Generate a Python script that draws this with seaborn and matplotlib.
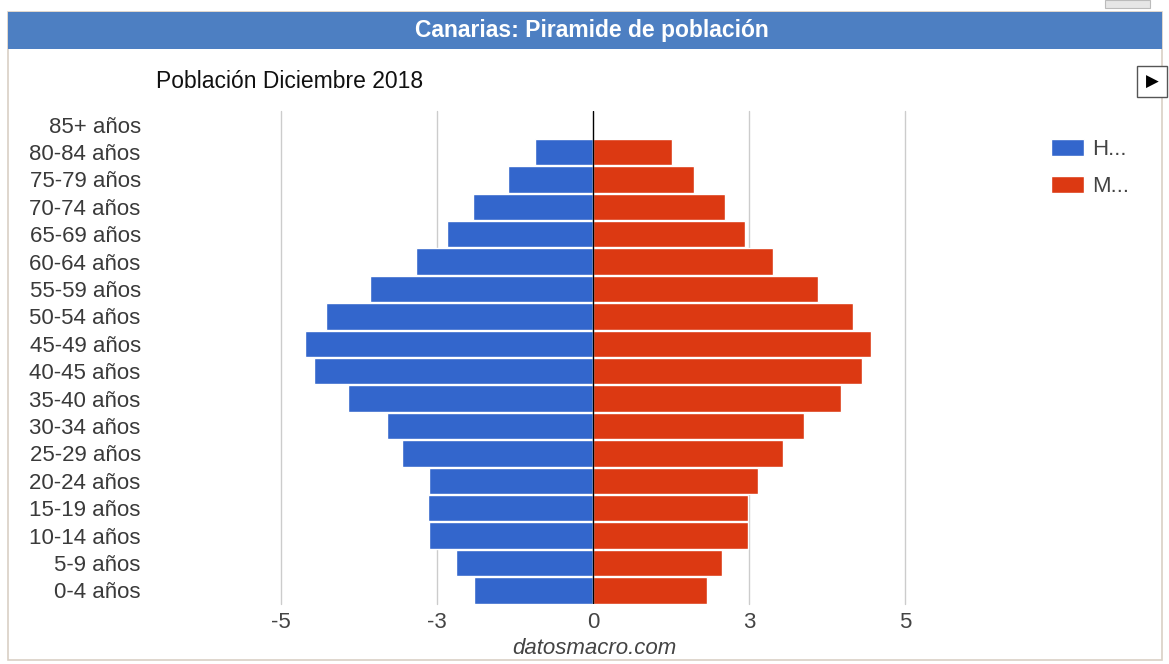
import pandas as pd
import matplotlib.pyplot as plt
import seaborn as sns
from matplotlib.patches import Rectangle

# Pirámide de población, Canarias (% de la población)
grupos = ['85+ años', '80-84 años', '75-79 años', '70-74 años', '65-69 años',
          '60-64 años', '55-59 años', '50-54 años', '45-49 años', '40-45 años',
          '35-40 años', '30-34 años', '25-29 años', '20-24 años', '15-19 años',
          '10-14 años', '5-9 años', '0-4 años']
hombres = [0.0, 0.93, 1.36, 1.93, 2.34, 2.83, 3.57, 4.28, 4.61, 4.47,
           3.93, 3.30, 3.06, 2.63, 2.65, 2.63, 2.19, 1.91]
mujeres = [0.0, 1.27, 1.62, 2.12, 2.44, 2.88, 3.60, 4.17, 4.45, 4.31,
           3.98, 3.38, 3.05, 2.64, 2.48, 2.48, 2.06, 1.82]
series = ['Hombres', 'Mujeres']
etiquetas_leyenda = ['H...', 'M...']
x_ticks = [-5, -2.5, 0, 2.5, 5]
x_tick_labels = ['-5', '-3', '0', '3', '5']
colores = ['#3366cc', '#dc3912']

sns.set_theme(style="white")
plt.rcParams['font.family'] = ['Liberation Sans', 'DejaVu Sans']

df = pd.DataFrame({
    'grupo': grupos * 2,
    'sexo': [series[0]] * len(grupos) + [series[1]] * len(grupos),
    'valor': [-v for v in hombres] + mujeres,
})

W, H = 1169, 664
fig = plt.figure(figsize=(W / 100, H / 100), dpi=100)
fig.patch.set_facecolor('white')

# marco y barra de título
fig.patches.append(Rectangle((8 / W, 4 / H), 1154 / W, 648 / H, transform=fig.transFigure,
                             facecolor='none', edgecolor='#d9d0c5', lw=1.2, zorder=-1))
fig.patches.append(Rectangle((8 / W, 1 - 49 / H), 1154 / W, 37 / H, transform=fig.transFigure,
                             facecolor='#4d7fc2', edgecolor='none', zorder=1))
fig.patches.append(Rectangle((1105 / W, 1 - 8 / H), 45 / W, 8 / H, transform=fig.transFigure,
                             facecolor='#e6e6e6', edgecolor='#bbbbbb', lw=0.8, zorder=1))
fig.text(592 / W, 1 - 31 / H, 'Canarias: Piramide de población', color='white',
         fontsize=16.5, fontweight='bold', ha='center', va='center')
fig.text(156 / W, 1 - 82 / H, 'Población Diciembre 2018', color='#111111',
         fontsize=16.5, ha='left', va='center')

# botón de reproducción
fig.patches.append(Rectangle((1137 / W, 1 - 97 / H), 30 / W, 31 / H, transform=fig.transFigure,
                             facecolor='white', edgecolor='#555555', lw=1, zorder=2))
fig.text(1152 / W, 1 - 81.5 / H, '▶', fontsize=12, ha='center', va='center',
         color='black', family=['DejaVu Sans'])

ax = fig.add_axes([281 / W, 1 - 604 / H, 624 / W, 493 / H])
sns.barplot(data=df, y='grupo', x='valor', hue='sexo', order=grupos,
            hue_order=series, palette=colores, dodge=False, width=0.965,
            saturation=1, orient='h', ax=ax, legend=True)

ax.set_xlim(-5, 5)
ax.set_ylim(len(grupos) - 0.5, -0.5)
ax.set_xticks(x_ticks)
ax.set_xticklabels(x_tick_labels)
for x in x_ticks:
    if x != 0:
        ax.axvline(x, color='#cccccc', lw=1, zorder=0, clip_on=False)
ax.axvline(0, color='black', lw=1, zorder=3)
ax.set_axisbelow(True)
for s in ax.spines.values():
    s.set_visible(False)
ax.set_xlabel('')
ax.set_ylabel('')
ax.tick_params(axis='y', length=0, pad=101, labelsize=16, labelcolor='#3a3a3a')
ax.tick_params(axis='x', length=0, pad=6, labelsize=16, labelcolor='#444444')
ax.grid(False)

handles, _ = ax.get_legend_handles_labels()
ax.get_legend().remove()
fig.legend(handles, etiquetas_leyenda, loc='upper left',
           bbox_to_anchor=(1031 / W, 1 - 119 / H), bbox_transform=fig.transFigure,
           frameon=False, fontsize=16, handlelength=1.5, handleheight=0.8,
           labelspacing=0.72, handletextpad=0.35, labelcolor='#444444')

fig.text(594 / W, 1 - 649 / H, 'datosmacro.com', fontsize=16, style='italic',
         color='#444444', ha='center', va='center')

fig.savefig('out.png', dpi=100)
